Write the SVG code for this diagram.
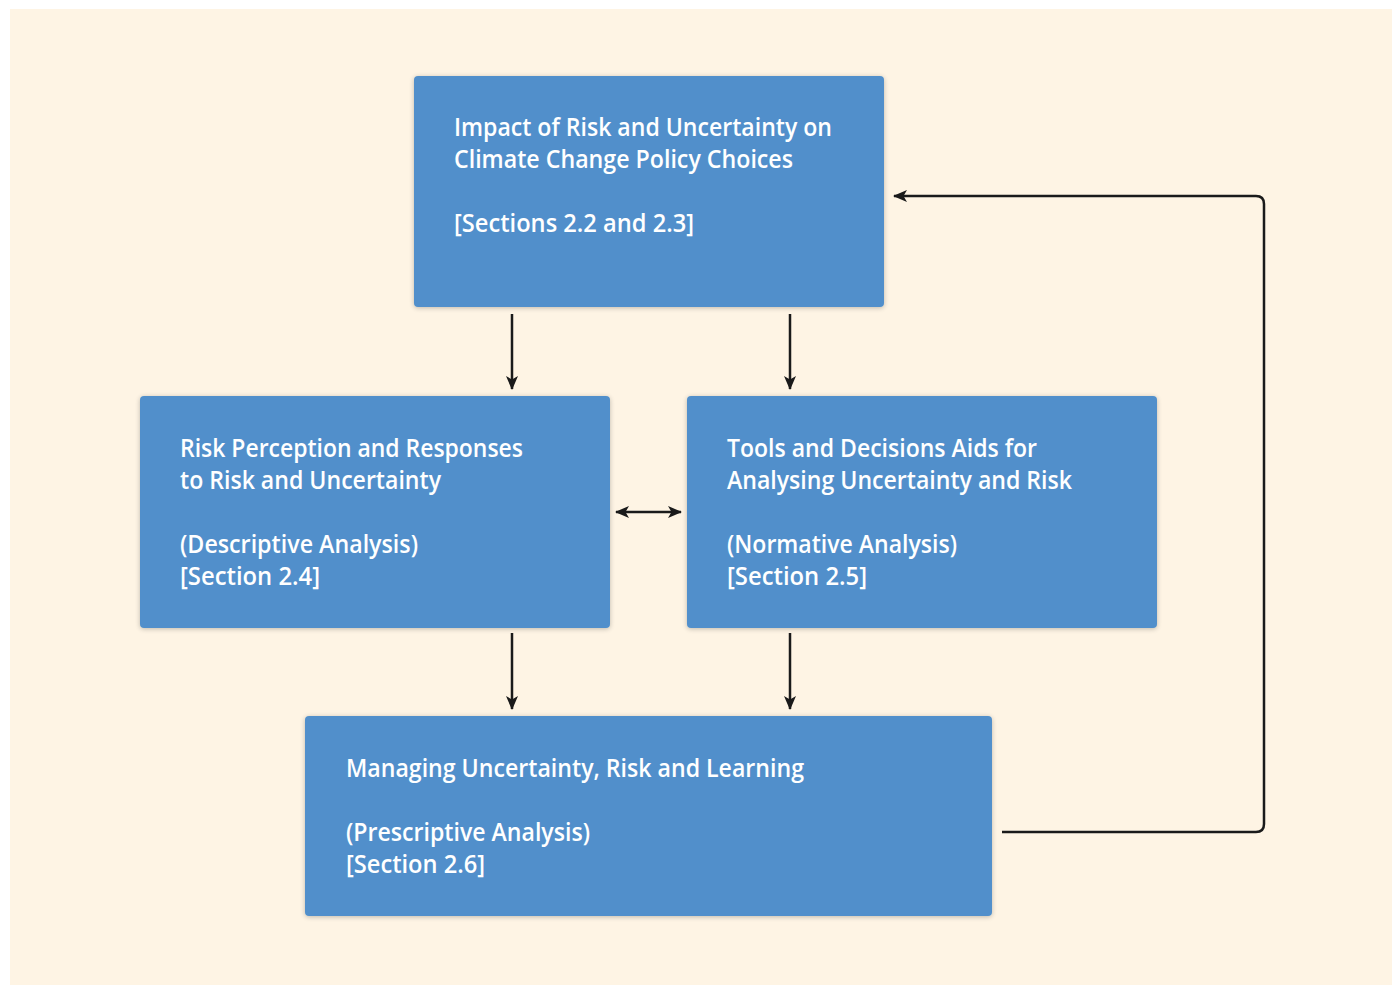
<svg xmlns="http://www.w3.org/2000/svg" width="1392" height="985" viewBox="0 0 1392 985">
<defs>
<filter id="sh" x="-5%" y="-5%" width="110%" height="110%">
<feGaussianBlur in="SourceAlpha" stdDeviation="2.5"/>
<feOffset dx="0" dy="1"/>
<feComponentTransfer><feFuncA type="linear" slope="0.25"/></feComponentTransfer>
<feMerge><feMergeNode/><feMergeNode in="SourceGraphic"/></feMerge>
</filter>
<marker id="ah" viewBox="0 0 14 12" refX="13" refY="6" markerWidth="14" markerHeight="12" markerUnits="userSpaceOnUse" orient="auto-start-reverse">
<path d="M0,0 L14,6 L0,12 L3.5,6 Z" fill="#1a1a1a"/>
</marker>
</defs>
<style>
.box{fill:#518fcb;filter:url(#sh)}
.t{font-family:"Open Sans","Noto Sans",sans-serif;font-weight:600;font-size:25px;fill:#ffffff}
.c{fill:none;stroke:#1a1a1a;stroke-width:2.5}
</style>
<rect x="0" y="0" width="1392" height="985" fill="#ffffff"/>
<rect x="10" y="9" width="1382" height="976" fill="#fef4e4"/>
<g id="connectors">
<line class="c" x1="512" y1="314" x2="512" y2="389" marker-end="url(#ah)"/>
<line class="c" x1="790" y1="314" x2="790" y2="389" marker-end="url(#ah)"/>
<line class="c" x1="512" y1="633" x2="512" y2="709" marker-end="url(#ah)"/>
<line class="c" x1="790" y1="633" x2="790" y2="709" marker-end="url(#ah)"/>
<line class="c" x1="616" y1="512" x2="681" y2="512" marker-start="url(#ah)" marker-end="url(#ah)"/>
<path class="c" d="M1002,832 H1256 Q1264,832 1264,824 V204 Q1264,196 1256,196 H894" marker-end="url(#ah)"/>
</g>
<g id="node-impact">
<rect class="box" x="414" y="76" width="470" height="231" rx="4"/>
<text class="t" x="454" y="136" textLength="378" lengthAdjust="spacingAndGlyphs">Impact of Risk and Uncertainty on</text>
<text class="t" x="454" y="168" textLength="339" lengthAdjust="spacingAndGlyphs">Climate Change Policy Choices</text>
<text class="t" x="454" y="232" textLength="240" lengthAdjust="spacingAndGlyphs">[Sections 2.2 and 2.3]</text>
</g>
<g id="node-descriptive">
<rect class="box" x="140" y="396" width="470" height="232" rx="4"/>
<text class="t" x="180" y="457" textLength="343" lengthAdjust="spacingAndGlyphs">Risk Perception and Responses</text>
<text class="t" x="180" y="489" textLength="261" lengthAdjust="spacingAndGlyphs">to Risk and Uncertainty</text>
<text class="t" x="180" y="553" textLength="238" lengthAdjust="spacingAndGlyphs">(Descriptive Analysis)</text>
<text class="t" x="180" y="585" textLength="140" lengthAdjust="spacingAndGlyphs">[Section 2.4]</text>
</g>
<g id="node-normative">
<rect class="box" x="687" y="396" width="470" height="232" rx="4"/>
<text class="t" x="727" y="457" textLength="310" lengthAdjust="spacingAndGlyphs">Tools and Decisions Aids for</text>
<text class="t" x="727" y="489" textLength="345" lengthAdjust="spacingAndGlyphs">Analysing Uncertainty and Risk</text>
<text class="t" x="727" y="553" textLength="230" lengthAdjust="spacingAndGlyphs">(Normative Analysis)</text>
<text class="t" x="727" y="585" textLength="140" lengthAdjust="spacingAndGlyphs">[Section 2.5]</text>
</g>
<g id="node-prescriptive">
<rect class="box" x="305" y="716" width="687" height="200" rx="4"/>
<text class="t" x="346" y="777" textLength="458" lengthAdjust="spacingAndGlyphs">Managing Uncertainty, Risk and Learning</text>
<text class="t" x="346" y="841" textLength="244" lengthAdjust="spacingAndGlyphs">(Prescriptive Analysis)</text>
<text class="t" x="346" y="873" textLength="139" lengthAdjust="spacingAndGlyphs">[Section 2.6]</text>
</g>
</svg>
